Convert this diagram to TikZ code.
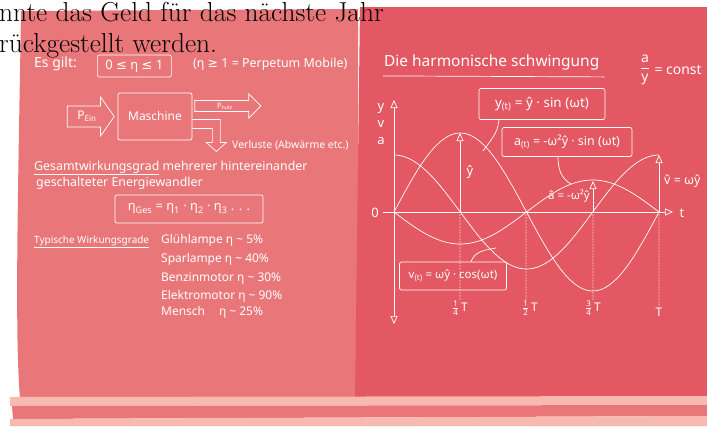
\documentclass[tikz,border=0pt]{standalone}
\usepackage{amsmath}
\usepackage{fontspec}
\setsansfont{Noto Sans}
\newfontfamily\symfont{DejaVu Sans}
\usetikzlibrary{arrows.meta, positioning, shapes.arrows, calc}
\definecolor{PanelLeft}{HTML}{E97779}
\definecolor{PanelRight}{HTML}{E35862}
\definecolor{StripeLight}{HTML}{F7B9B0}
\newcommand{\hw}[1]{\sffamily\fontsize{#1}{#1}\selectfont}
\newcommand{\leqsym}{{\symfont ≤}}
\newcommand{\geqsym}{{\symfont ≥}}

\begin{document}
\begin{tikzpicture}[x=1bp, y=-1bp,
    chalk/.style={text=white, font=\hw{12}, inner sep=1bp},
    wline/.style={draw=white, line width=0.7pt},
    wbox/.style={wline, rounded corners=2bp, inner xsep=5bp, inner ysep=4bp},
    warr/.style={wline, -{Triangle[open, length=8bp, width=7bp]}},
    dots/.style={draw=white, line width=1.1pt, line cap=round, dash pattern=on 0bp off 3bp},
    curve/.style={wline, smooth, samples=90},
    blockarr/.style={single arrow, wline, single arrow head extend=9bp,
                     single arrow tip angle=110, inner xsep=4bp, inner ysep=5bp},
    node distance=3bp
  ]
  \useasboundingbox (0,0) rectangle (707,426);
  \fill[PanelLeft] (21,11) -- (358,9) -- (358,398) -- (20,398)
    .. controls (14,330) and (19,150) .. cycle;
  \fill[PanelRight] (360,7) -- (707,7) -- (707,398) -- (355,398) -- cycle;
  \fill[StripeLight] (10,397) -- (707,396) -- (707,405) -- (10,406) -- cycle;
  \fill[PanelLeft] (12,406) -- (707,405) -- (707,416) -- (13,419) -- cycle;
  \fill[StripeLight] (10,419) -- (707,416) -- (707,426) -- (10,426) -- cycle;

  \node[anchor=base west, inner sep=0, font=\fontsize{27.5}{30}\selectfont] (hdr1) at (-1,21) {nnte das Geld für das nächste Jahr};
  \node[anchor=base west, inner sep=0, font=\fontsize{27.5}{30}\selectfont] (hdr2) at (-1,52) {rückgestellt werden.};

  \node[chalk, font=\hw{14}, anchor=west] (esgilt) at (33,64) {Es gilt:};
  \node[chalk, wbox, font=\hw{13}, minimum width=74bp, minimum height=22bp, anchor=west] (range) at (97,66) {0 \leqsym{} η \leqsym{} 1};
  \node[chalk, font=\hw{12.5}, anchor=west] (perp) at (192,64) {(η \geqsym{} 1 = Perpetum Mobile)};

  \node[chalk, wbox, font=\hw{12}, minimum width=74bp, minimum height=47bp] (masch) at (155,116.5) {Maschine};
  \node[chalk, blockarr, font=\hw{12}, minimum height=47bp, left=3bp of masch] (pein) {P\textsubscript{Ein}};
  \node[chalk, blockarr, font=\hw{7.5}, minimum height=66bp, inner ysep=2bp, single arrow head extend=6.5bp,
        single arrow tip angle=90] (pnutz) at (225,106) {P\textsubscript{nutz}};
  \coordinate (loss1) at ($(masch.east)+(0,3)$);
  \coordinate (loss2) at ($(masch.east)+(0,12)$);
  \draw[wline] (loss1) -- ++(28,0) -- ++(0,23) -- ++(6,0) -- ++(-10,9) -- ++(-10,-9) -- ++(6,0) |- (loss2);
  \node[chalk, font=\hw{10.5}, anchor=west] (verl) at (231,145) {Verluste (Abwärme etc.)};

  \node[chalk, font=\hw{12.4}, anchor=base west] (ges1) at (33,170) {\underline{Gesamtwirkungsgrad} mehrerer hintereinander};
  \node[chalk, font=\hw{12.4}, anchor=base west] (ges2) at (35,186) {geschalteter Energiewandler};
  \node[chalk, wbox, font=\hw{13}, minimum width=148bp, minimum height=28bp] (etages) at (189,209)
    {η\textsubscript{Ges} = η\textsubscript{1} · η\textsubscript{2} · η\textsubscript{3} . . .};

  \node[chalk, font=\hw{10}, anchor=base west] (typ) at (33,243) {\underline{Typische Wirkungsgrade}};
  \node[chalk, anchor=base west] (lamp) at (160,243) {Glühlampe η \textasciitilde{} 5\%};
  \node[chalk, anchor=base west] (spar) at (160,262) {Sparlampe η \textasciitilde{} 40\%};
  \node[chalk, anchor=base west] (benz) at (160,281) {Benzinmotor η \textasciitilde{} 30\%};
  \node[chalk, anchor=base west] (elek) at (160,299) {Elektromotor η \textasciitilde{} 90\%};
  \node[chalk, anchor=base west] (mens) at (160,315) {Mensch\hspace{14bp}η \textasciitilde{} 25\%};

  \node[chalk, font=\hw{15.5}, anchor=base west] (titel) at (383,66) {Die harmonische schwingung};
  \draw[wline] ([yshift=-5bp]titel.south west) -- ([xshift=4bp,yshift=-6bp]titel.south east);
  \node[chalk, font=\hw{14}] (ratio) at (645,70) {$\dfrac{\text{a}}{\text{y}}$};
  \node[chalk, font=\hw{14}, right=2bp of ratio] (const) {= const};

  \coordinate (orig) at (394,212);
  \coordinate (ytop) at (394,100);
  \coordinate (ybot) at (394,324);
  \coordinate (tleft) at (383,212);
  \coordinate (tright) at (673,212);
  \draw[wline, {Triangle[open, length=8bp, width=7bp]}-{Triangle[open, length=8bp, width=7bp]}] (ybot) -- (ytop);
  \draw[warr] (tleft) -- (tright);
  \node[chalk, font=\hw{13}] (lab0) at (375,213) {0};
  \node[chalk, font=\hw{13}] (labt) at (682,213) {t};
  \node[chalk, font=\hw{13}] (laby) at (381,109) {y};
  \node[chalk, font=\hw{13}] (labv) at (381,124) {v};
  \node[chalk, font=\hw{13}] (laba) at (381,141) {a};

  \draw[curve] plot[domain=394:659] (\x, {212 - 79*sin(1.3585*(\x-394))});
  \draw[curve] plot[domain=394:659] (\x, {212 - 57*cos(1.3585*(\x-394))});
  \draw[curve] plot[domain=394:659] (\x, {212 + 32*sin(1.3585*(\x-394))});

  \coordinate (q1) at (460,212);
  \coordinate (q1top) at (460,133);
  \coordinate (q2) at (526,212);
  \coordinate (q3) at (593,212);
  \coordinate (q3top) at (593,181);
  \coordinate (q4) at (659,212);
  \coordinate (q4top) at (659,155);
  \draw[warr] (q1) -- (q1top);
  \draw[warr] (q3) -- (q3top);
  \draw[warr] (q4) -- (q4top);
  \node[chalk, font=\hw{13}] (yhat) at (470,172) {ŷ};
  \node[chalk, font=\hw{11.5}, anchor=east] (ahat) at (591,196) {â = -ω²ŷ};
  \node[chalk, font=\hw{12.5}, anchor=west] (vhat) at (663,181) {v̂ = ωŷ};

  \node[chalk, font=\hw{12}] (tq1) at (460,308) {$\frac{\text{1}}{\text{4}}$\,T};
  \node[chalk, font=\hw{12}] (tq2) at (530,308) {$\frac{\text{1}}{\text{2}}$\,T};
  \node[chalk, font=\hw{12}] (tq3) at (593,308) {$\frac{\text{3}}{\text{4}}$\,T};
  \node[chalk, font=\hw{12}] (tq4) at (659,312) {T};
  \draw[dots] (q1) -- (q1 |- tq1.north);
  \draw[dots] (q2) -- (q2 |- tq2.north);
  \draw[dots] (q3) -- (q3 |- tq3.north);
  \draw[dots] (q4) -- (tq4.north);

  \node[chalk, wbox, font=\hw{13.5}, minimum width=126bp, minimum height=31bp] (yeq) at (542,104) {y\textsubscript{(t)} = ŷ · sin (ωt)};
  \node[chalk, wbox, font=\hw{12.5}, minimum width=130bp, minimum height=29bp] (aeq) at (567,142) {a\textsubscript{(t)} = -ω²ŷ · sin (ωt)};
  \node[chalk, wbox, font=\hw{11.5}, minimum width=107bp, minimum height=28bp] (veq) at (453,276) {v\textsubscript{(t)} = ωŷ · cos(ωt)};
  \coordinate (yhit) at (483,151);
  \coordinate (ahit) at (571,184);
  \coordinate (vhit) at (496,248);
  \draw[wline] ([xshift=-43bp]yeq.south) to[out=-95, in=55] (yhit);
  \draw[wline] ([xshift=-9bp]aeq.south) to[out=-90, in=150] (ahit);
  \draw[wline] ([xshift=18bp]veq.north) to[out=70, in=190] (vhit);
\end{tikzpicture}
\end{document}
